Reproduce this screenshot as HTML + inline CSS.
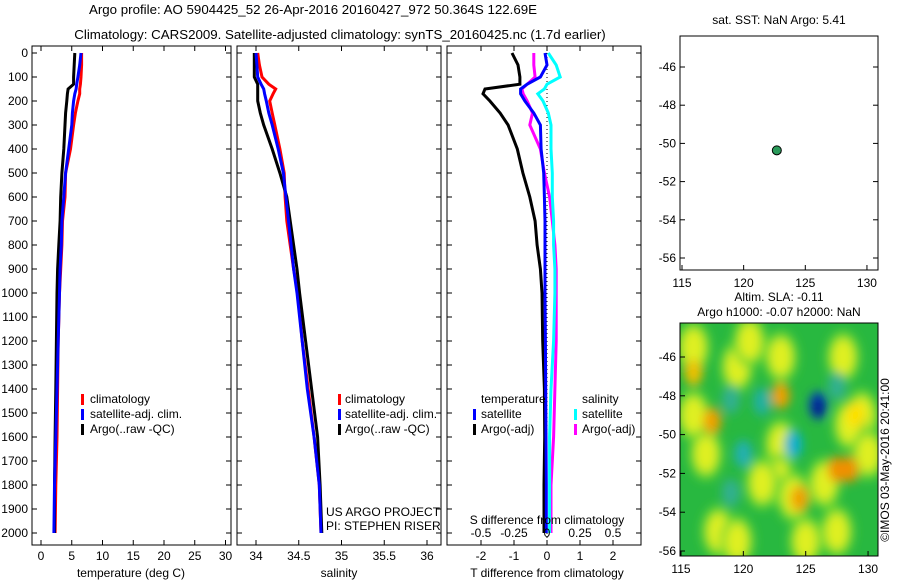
<!DOCTYPE html>
<html><head><meta charset="utf-8"><style>
body{margin:0;background:#fff}
svg text{font-family:"Liberation Sans",sans-serif;font-size:12px;fill:#000}
</style></head><body>
<svg id="s" width="900" height="580">
<text x="313" y="14" text-anchor="middle" style="font-size:13.3px">Argo profile: AO 5904425_52 26-Apr-2016 20160427_972 50.364S 122.69E</text>
<text x="340" y="39" text-anchor="middle" style="font-size:13.3px">Climatology: CARS2009. Satellite-adjusted climatology: synTS_20160425.nc (1.7d earlier)</text>
<g id="g"></g>
</svg>
<script>
const depths=[0,50,100,130,150,170,200,250,300,400,500,600,700,800,900,1000,1200,1400,1600,1800,2000];
const tClim=[6.6,6.6,6.5,6.4,6.3,6.3,6.0,5.6,5.3,4.8,4.0,3.9,3.5,3.4,3.2,3.0,2.8,2.7,2.6,2.4,2.3];
const tSat=[6.5,6.3,6.0,5.8,5.7,5.5,5.3,5.1,5.0,4.5,4.0,3.7,3.4,3.3,3.1,3.0,2.8,2.6,2.4,2.2,2.1];
const tArgo=[5.5,5.4,5.3,5.3,4.4,4.3,4.2,4.0,3.9,3.7,3.4,3.2,3.1,2.9,2.7,2.6,2.5,2.4,2.3,2.2,2.2];
const sClim=[34.02,34.04,34.07,34.15,34.23,34.2,34.16,34.19,34.22,34.28,34.33,34.34,34.36,34.4,34.44,34.49,34.54,34.61,34.68,34.74,34.76];
const sSat=[34.0,34.01,34.02,34.06,34.09,34.1,34.12,34.15,34.19,34.26,34.32,34.35,34.38,34.41,34.44,34.48,34.54,34.6,34.68,34.74,34.76];
const sArgo=[33.98,33.98,33.98,34.02,34.02,34.02,34.02,34.05,34.09,34.19,34.28,34.36,34.4,34.44,34.48,34.51,34.58,34.65,34.72,34.75,34.77];
const dtArgo=[-1.06,-0.88,-0.82,-0.82,-1.88,-1.94,-1.73,-1.42,-1.18,-0.9,-0.73,-0.52,-0.36,-0.3,-0.2,-0.15,-0.13,-0.08,-0.07,-0.09,-0.09];
const dtSat=[-0.06,0,-0.2,-0.6,-0.8,-0.8,-0.67,-0.4,-0.2,-0.18,-0.1,-0.08,-0.06,-0.06,-0.06,-0.06,-0.05,-0.04,-0.03,-0.02,-0.02];
const dsSat=[0.01,0.07,0.1,0.0,-0.02,-0.07,-0.03,0.01,0.03,0.03,0.04,0.04,0.05,0.05,0.06,0.06,0.05,0.03,0.02,0.02,0.02];
const dsArgo=[-0.1,-0.1,-0.09,-0.15,-0.19,-0.18,-0.15,-0.11,-0.13,-0.05,-0.02,0.02,0.04,0.06,0.07,0.07,0.07,0.06,0.05,0.03,0.03];
const depthTicks=[0,100,200,300,400,500,600,700,800,900,1000,1100,1200,1300,1400,1500,1600,1700,1800,1900,2000];
const tTicks=[0,5,10,15,20,25,30];
const sTicks=[34,34.5,35,35.5,36];
const dtTicks=[-2,-1,0,1,2];
const dsTicks=[-0.5,-0.25,0,0.25,0.5];
const lonTicks=[115,120,125,130];
const latTicks=[-46,-48,-50,-52,-54,-56];
const floatLon=122.69, floatLat=-50.364;
const yBlobs=[[116,-45.5],[119.5,-46.5],[120.5,-45.2],[123,-46],[123,-50.5],[122.8,-52.3],[128,-46],[129.5,-49],[128.5,-49.5],[121.5,-52.5],[117,-51],[118,-55],[125,-55.5],[127.5,-55],[130,-51],[116,-49],[126.5,-52.5],[119.5,-55.5],[124,-53.2]];
const blobs=[[116,-46.8,'#f0c000'],[117.5,-49.3,'#f0a000'],[123,-48,'#f0a000'],[127.5,-51.8,'#f09000'],[128.5,-51.8,'#f09000'],[124.5,-53.3,'#f0a000'],[129,-49,'#ffe000']];
const cBlobs=[[121.5,-48.3,'#20b0a0'],[120,-51,'#20b0b0'],[124,-50.5,'#10b0d0'],[126,-48.5,'#0040c0'],[126,-48.6,'#001080'],[127.5,-47.5,'#30b090'],[119,-53,'#30b090'],[119,-48.2,'#30b090']];
const NS='http://www.w3.org/2000/svg';
const G=document.getElementById('g');
function el(t,a,p){const e=document.createElementNS(NS,t);for(const k in a)e.setAttribute(k,a[k]);(p||G).appendChild(e);return e;}
const Y=d=>53+d*0.24;
function frame(x0,x1,name){const r=el('rect',{x:x0,y:46,width:x1-x0,height:499,fill:'none',stroke:'#000'});

depthTicks.forEach(d=>{el('line',{x1:x0,x2:x0+5,y1:Y(d),y2:Y(d),stroke:'#000'});el('line',{x1:x1,x2:x1-5,y1:Y(d),y2:Y(d),stroke:'#000'});});}
function txt(x,y,s,anchor,name,extra){const t=el('text',Object.assign({x:x,y:y,'text-anchor':anchor||'start'},extra||{}));t.textContent=s;
return t;}
function line(xs,ys,fx,col,name,w){const pts=xs.map((v,i)=>fx(v).toFixed(1)+','+Y(ys[i]).toFixed(1)).join(' ');
const p=el('polyline',{points:pts,fill:'none',stroke:col,'stroke-width':w||3});}
function xt(x0,x1,fx,ticks,labs,y){ticks.forEach((v,i)=>{const x=fx(v);el('line',{x1:x,x2:x,y1:545,y2:540,stroke:'#000'});el('line',{x1:x,x2:x,y1:46,y2:51,stroke:'#000'});txt(x,y,labs[i],'middle','x-tick-label');});}
const fT=v=>41+v*6.15;
frame(32,231,'temperature-panel');
depthTicks.forEach(d=>txt(28,Y(d)+4,String(d),'end','depth-tick-label'));
xt(32,231,fT,tTicks,tTicks.map(String),560);
txt(131,577,'temperature (deg C)','middle','x-axis-title');
line(tClim,depths,fT,'#f00','temp-climatology');line(tArgo,depths,fT,'#000','temp-argo');line(tSat,depths,fT,'#00f','temp-satellite');
const fS=v=>256+(v-34)*85.5;
frame(237,441,'salinity-panel');
xt(237,441,fS,sTicks,['34','34.5','35','35.5','36'],560);
txt(339,577,'salinity','middle','x-axis-title');
line(sClim,depths,fS,'#f00','sal-climatology');line(sArgo,depths,fS,'#000','sal-argo');line(sSat,depths,fS,'#00f','sal-satellite');
[[81,'climatology','#f00'],[81,'satellite-adj. clim.','#00f'],[81,'Argo(..raw -QC)','#000']].forEach((l,i)=>{
el('rect',{x:81,y:394+i*15,width:3,height:11,fill:l[2]});txt(90,403+i*15,l[1],'start','legend-entry');
el('rect',{x:338,y:394+i*15,width:3,height:11,fill:l[2]});txt(345,403+i*15,l[1],'start','legend-entry');});
txt(326,516,'US ARGO PROJECT','start','project-label');txt(326,530,'PI: STEPHEN RISER','start','pi-label');
const fDT=v=>547+v*33, fDS=v=>547+v*132;
frame(447,641,'difference-panel');
dtTicks.forEach(v=>{const x=fDT(v);el('line',{x1:x,x2:x,y1:545,y2:540,stroke:'#000'});el('line',{x1:x,x2:x,y1:46,y2:51,stroke:'#000'});txt(x,560,String(v),'middle','t-diff-tick');});
el('line',{x1:547,x2:547,y1:53,y2:545,stroke:'#000','stroke-dasharray':'1,3'});
line(dtArgo,depths,fDT,'#000','tdiff-argo');line(dsArgo,depths,fDS,'#f0f','sdiff-argo');line(dtSat,depths,fDT,'#00f','tdiff-satellite');line(dsSat,depths,fDS,'#0ff','sdiff-satellite');
dsTicks.forEach(v=>txt(fDS(v),537,String(v),'middle','s-diff-tick'));
txt(547,524,'S difference from climatology','middle','s-axis-title');
txt(547,577,'T difference from climatology','middle','t-axis-title');
txt(481,403,'temperature','start','legend-title');txt(582,403,'salinity','start','legend-title');
[['satellite','#00f',473],['Argo(-adj)','#000',473],['satellite','#0ff',574],['Argo(-adj)','#f0f',574]].forEach((l,i)=>{const yy=409+(i%2)*15;
el('rect',{x:l[2],y:yy,width:3,height:11,fill:l[1]});txt(l[2]+8,yy+9,l[0],'start','legend-entry');});
const mx1=v=>682+(v-115)*12.33, my1=v=>67+(-46-v)*19.1;
const m1=el('rect',{x:680,y:36,width:198,height:234,fill:'none',stroke:'#000'});
txt(779,24,'sat. SST: NaN Argo: 5.41','middle','sst-title');
lonTicks.forEach(v=>{el('line',{x1:mx1(v),x2:mx1(v),y1:270,y2:265,stroke:'#000'});txt(mx1(v),287,String(v),'middle','lon-tick');});
latTicks.forEach(v=>{el('line',{x1:680,x2:685,y1:my1(v),y2:my1(v),stroke:'#000'});el('line',{x1:878,x2:873,y1:my1(v),y2:my1(v),stroke:'#000'});txt(676,my1(v)+4,String(v),'end','lat-tick');});
const pt=el('circle',{cx:mx1(floatLon),cy:my1(floatLat),r:4.5,fill:'#2a9a5a',stroke:'#000'});
const mx2=v=>681+(v-115)*12.47, my2=v=>357+(-46-v)*19.4;
txt(779,301,'Altim. SLA: -0.11','middle','sla-title');txt(779,316,'Argo h1000: -0.07 h2000: NaN','middle','sla-subtitle');
const defs=el('defs',{});const cp=el('clipPath',{id:'c2'},defs);el('rect',{x:680,y:323,width:198,height:233},cp);
const f=el('filter',{id:'bl',x:'-50%',y:'-50%',width:'200%',height:'200%'},defs);el('feGaussianBlur',{stdDeviation:5},f);
const hg=el('g',{'clip-path':'url(#c2)'});
el('rect',{x:680,y:323,width:198,height:233,fill:'#28b840'},hg);
const bg=el('g',{filter:'url(#bl)'},hg);
yBlobs.forEach(b=>{el('ellipse',{cx:mx2(b[0]),cy:my2(b[1]),rx:17,ry:26,fill:'#70d830'},bg);el('ellipse',{cx:mx2(b[0]),cy:my2(b[1]),rx:11,ry:18,fill:'#e0f020'},bg);});
blobs.forEach(b=>el('ellipse',{cx:mx2(b[0]),cy:my2(b[1]),rx:9,ry:13,fill:b[2]},bg));
cBlobs.forEach(b=>el('ellipse',{cx:mx2(b[0]),cy:my2(b[1]),rx:b[2]=='#001080'?5:9,ry:b[2]=='#001080'?10:14,fill:b[2]},bg));
el('rect',{x:680,y:323,width:198,height:233,fill:'none',stroke:'#000'});
lonTicks.forEach(v=>{el('line',{x1:mx2(v),x2:mx2(v),y1:556,y2:551,stroke:'#000'});txt(mx2(v),573,String(v),'middle','lon-tick');});
latTicks.forEach(v=>{el('line',{x1:680,x2:685,y1:my2(v),y2:my2(v),stroke:'#000'});txt(676,my2(v)+4,String(v),'end','lat-tick');});
txt(0,0,'©IMOS 03-May-2016 20:41:00','middle','imos-credit',{transform:'translate(889,460) rotate(-90)'});
</script>
</body></html>
